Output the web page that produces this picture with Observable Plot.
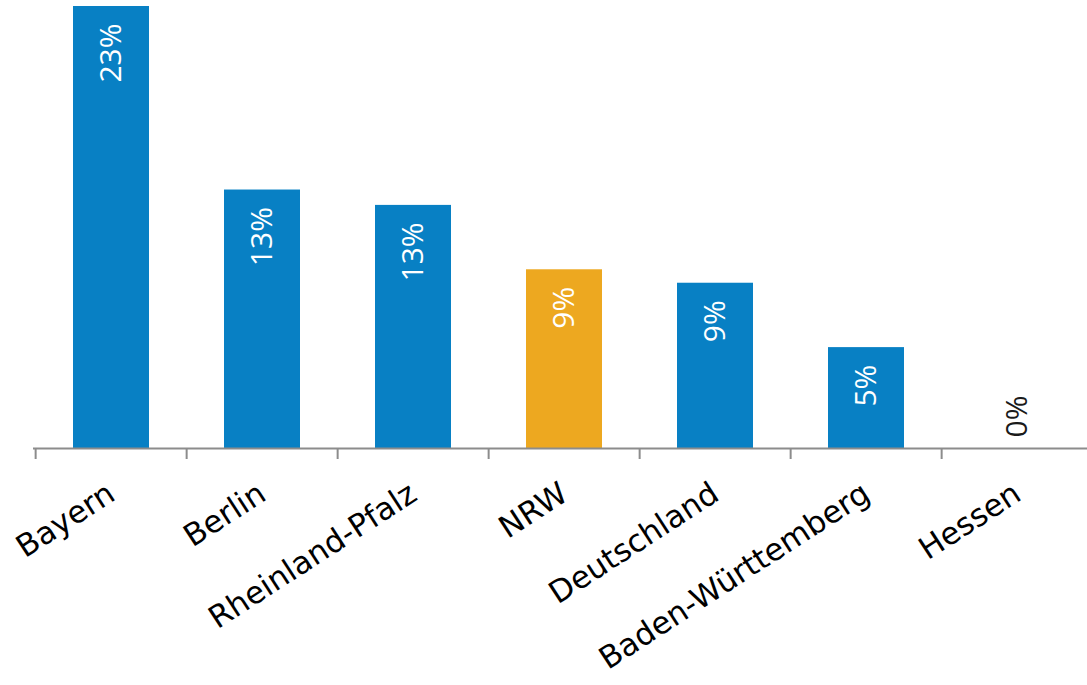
<!DOCTYPE html>
<html>
<head>
<meta charset="utf-8">
<script src="https://cdn.jsdelivr.net/npm/d3@7"></script>
<script src="https://cdn.jsdelivr.net/npm/@observablehq/plot@0.6"></script>
<style>
  html, body { margin: 0; padding: 0; background: #fff; }
  svg { display: block; }
</style>
</head>
<body>
<div id="chart"></div>
<script>
const categories = ["Bayern", "Berlin", "Rheinland-Pfalz", "NRW", "Deutschland", "Baden-Württemberg", "Hessen"];
const values = [23.0, 13.45, 12.65, 9.3, 8.6, 5.25, 0];
const highlight = ["NRW"];
const yDomain = [0, 23];

const data = categories.map((c, i) => ({category: c, value: values[i]}));

const W = 1087, H = 685;
const mL = 33, mR = -8, mT = 6, mB = 237;
const padInner = 0.5, padOuter = 0.25;
const step = (W - mL - mR) / (categories.length - padInner + 2 * padOuter);

const blue = "#0880C4", orange = "#EDA820", axisGray = "#8c8c8c";

const chart = Plot.plot({
  width: W,
  height: H,
  marginLeft: mL,
  marginRight: mR,
  marginTop: mT,
  marginBottom: mB,
  style: {fontFamily: "DejaVu Sans", background: "#fff"},
  x: {domain: categories, paddingInner: padInner, paddingOuter: padOuter, label: null},
  y: {domain: yDomain, axis: null},
  marks: [
    Plot.barY(data, {
      x: "category", y: "value",
      fill: d => highlight.includes(d.category) ? orange : blue
    }),
    Plot.ruleY([0], {stroke: axisGray, strokeWidth: 2}),
    Plot.axisX({
      tickSize: 11, dx: -step / 2, stroke: axisGray, strokeWidth: 2,
      text: null, label: null
    }),
    Plot.axisX({
      tickSize: 0, tickRotate: -33, tickPadding: 42,
      fontSize: 31, fill: "#000", label: null, fontFamily: "DejaVu Sans"
    }),
    Plot.text(data.filter(d => d.value > 0), {
      x: "category", y: "value",
      text: d => Math.round(d.value) + "%",
      rotate: -90, textAnchor: "end", lineAnchor: "middle",
      dy: 17, fill: "#fff", fontSize: 30, fontFamily: "Open Sans"
    }),
    Plot.text(data.filter(d => d.value === 0), {
      x: "category", y: "value",
      text: d => Math.round(d.value) + "%",
      rotate: -90, textAnchor: "start", lineAnchor: "middle",
      dy: -11, fill: "#1a1a1a", fontSize: 30, fontFamily: "Open Sans"
    })
  ]
});
document.getElementById("chart").appendChild(chart);
</script>
</body>
</html>
